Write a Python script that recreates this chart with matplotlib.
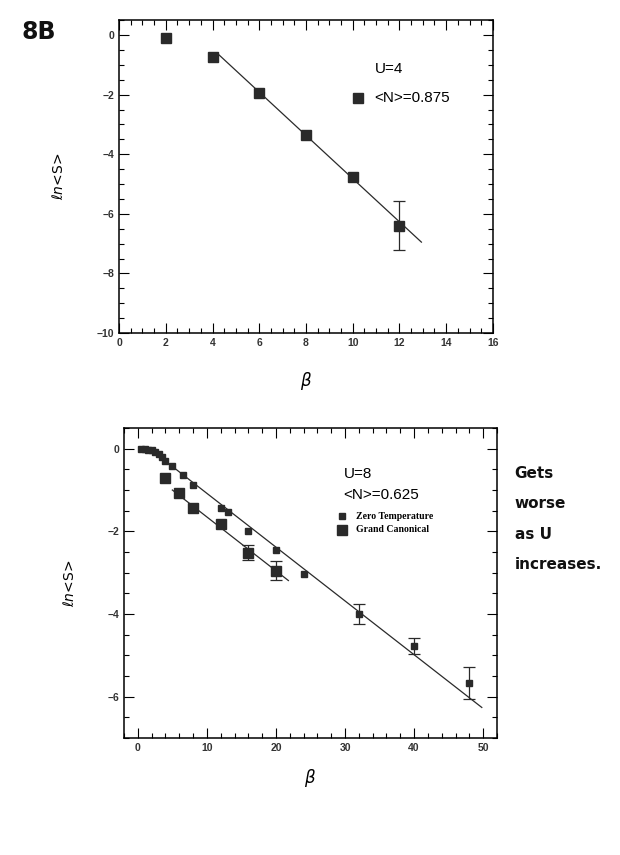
import numpy as np
import matplotlib.pyplot as plt
from matplotlib.ticker import MultipleLocator

# top panel: U=4, <N>=0.875
beta_u4 = [2, 4, 6, 8, 10, 12]
lns_u4 = [-0.1, -0.75, -1.95, -3.35, -4.75, -6.4]
err_u4 = [0, 0, 0, 0, 0, 0.82]
fit_u4_x = [4.24, 12.94]
fit_u4_y = [-0.64, -6.95]

# bottom panel: U=8, <N>=0.625
beta_zt = [0.5, 1, 1.5, 2, 2.5, 3, 3.5, 4, 5, 6.5, 8, 12, 13, 16, 20, 24, 32, 40, 48]
lns_zt = [0, 0, -0.02, -0.04, -0.08, -0.14, -0.2, -0.3, -0.42, -0.64, -0.88,
          -1.43, -1.52, -1.98, -2.46, -3.02, -4.0, -4.77, -5.67]
err_zt = [0, 0, 0, 0, 0, 0, 0, 0, 0, 0, 0, 0, 0, 0, 0, 0, 0.24, 0.19, 0.38]
beta_gc = [4, 6, 8, 12, 16, 20]
lns_gc = [-0.72, -1.08, -1.44, -1.82, -2.52, -2.95]
err_gc = [0, 0, 0, 0, 0.18, 0.23]
fit_zt_x = [5.0, 49.8]
fit_zt_y = [-0.43, -6.26]
fit_gc_x = [5.0, 21.8]
fit_gc_y = [-1.0, -3.19]

INK = '#2a2a2a'


def draw_points(ax, x, y, err, ms):
    x, y, err = np.array(x), np.array(y), np.array(err)
    ax.plot(x, y, 's', color=INK, ms=ms)
    m = err > 0
    ax.errorbar(x[m], y[m], yerr=err[m], fmt='none', ecolor=INK,
                elinewidth=0.9, capsize=4, capthick=0.9)


def style_axes(ax):
    ax.tick_params(which='both', direction='in', top=True, right=True, width=0.8)
    ax.tick_params(which='major', length=7)
    ax.tick_params(which='minor', length=3.5)
    for lab in ax.get_xticklabels() + ax.get_yticklabels():
        lab.set_fontfamily('Liberation Sans')
        lab.set_fontweight('bold')
        lab.set_fontsize(7.5)
        lab.set_color('#333333')
    for s in ax.spines.values():
        s.set_linewidth(1.1)


fig = plt.figure(figsize=(6.2, 8.55), dpi=100)
fig.patch.set_facecolor('white')

# ---- top plot
ax1 = fig.add_axes([0.192, 0.6105, 0.603, 0.366])
ax1.plot(fit_u4_x, fit_u4_y, color=INK, lw=0.9)
draw_points(ax1, beta_u4, lns_u4, err_u4, 7.5)
ax1.set_xlim(0, 16)
ax1.set_ylim(-10, 0.5)
ax1.xaxis.set_major_locator(MultipleLocator(2))
ax1.xaxis.set_minor_locator(MultipleLocator(0.5))
ax1.yaxis.set_major_locator(MultipleLocator(2))
ax1.yaxis.set_minor_locator(MultipleLocator(0.5))
style_axes(ax1)
ax1.text(10.94, -1.14, 'U=4', fontsize=11, family='Liberation Sans', va='center')
ax1.plot([10.23], [-2.13], 's', color=INK, ms=7.5)
ax1.text(10.94, -2.13, '<N>=0.875', fontsize=11, family='Liberation Sans', va='center')
ax1.set_xlabel(r'$\beta$', fontsize=12, labelpad=16)
ax1.set_ylabel(r'$\ell n$<S>', fontsize=10, labelpad=22)

# ---- bottom plot
ax2 = fig.add_axes([0.2, 0.1368, 0.6016, 0.3626])
ax2.plot(fit_zt_x, fit_zt_y, color=INK, lw=0.9)
ax2.plot(fit_gc_x, fit_gc_y, color=INK, lw=0.9)
draw_points(ax2, beta_zt, lns_zt, err_zt, 4)
draw_points(ax2, beta_gc, lns_gc, err_gc, 7)
ax2.set_xlim(-2, 52)
ax2.set_ylim(-7, 0.5)
ax2.xaxis.set_major_locator(MultipleLocator(10))
ax2.xaxis.set_minor_locator(MultipleLocator(2))
ax2.yaxis.set_major_locator(MultipleLocator(2))
ax2.yaxis.set_minor_locator(MultipleLocator(0.5))
style_axes(ax2)
ax2.text(29.8, -0.62, 'U=8', fontsize=11, family='Liberation Sans', va='center')
ax2.text(29.8, -1.12, '<N>=0.625', fontsize=11, family='Liberation Sans', va='center')
ax2.plot([29.6], [-1.63], 's', color=INK, ms=4)
ax2.text(31.6, -1.63, 'Zero Temperature', fontsize=7, family='Liberation Serif',
         weight='bold', va='center')
ax2.plot([29.6], [-1.96], 's', color=INK, ms=7)
ax2.text(31.6, -1.96, 'Grand Canonical', fontsize=7, family='Liberation Serif',
         weight='bold', va='center')
ax2.set_xlabel(r'$\beta$', fontsize=12, labelpad=10)
ax2.set_ylabel(r'$\ell n$<S>', fontsize=10, labelpad=22)

# handwritten notes
fig.text(0.035, 0.963, '8B', fontsize=17, weight='bold', family='DejaVu Sans',
         va='center', color='#111111')
notes = ['Gets', 'worse', 'as U', 'increases.']
for i, line in enumerate(notes):
    fig.text(0.83, 1 - (474 + i * 30) / 855, line, fontsize=11, weight='bold',
             family='DejaVu Sans', va='center', color='#111111')

fig.savefig('out.png', dpi=100)
